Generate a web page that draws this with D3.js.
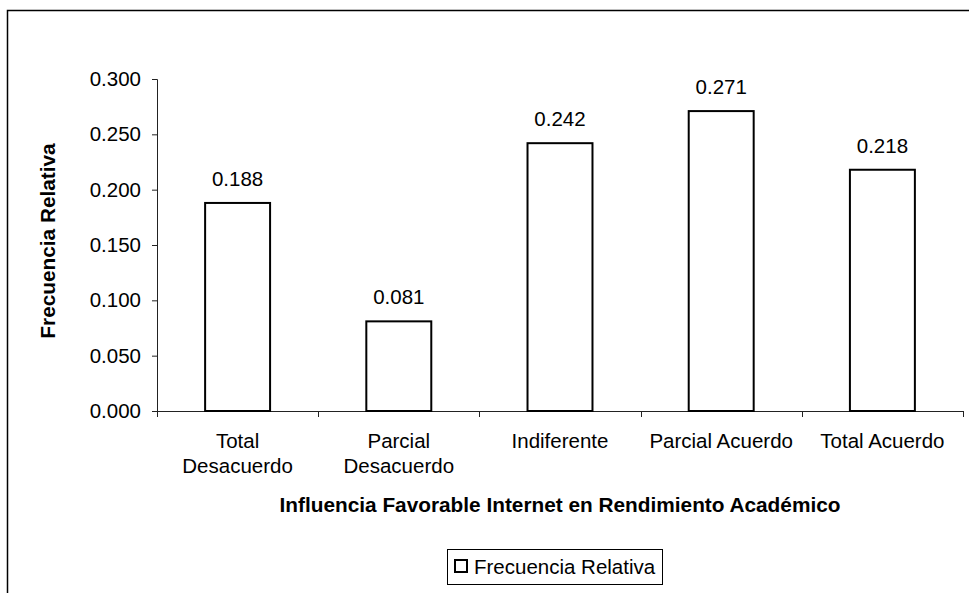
<!DOCTYPE html>
<html><head><meta charset="utf-8">
<script src="https://cdn.jsdelivr.net/npm/d3@7"></script>
<style>body{margin:0;background:#fff}svg{display:block;font-family:"Liberation Sans",Arial,sans-serif}</style>
</head><body>
<svg id="c" width="969" height="593"></svg>
<script>
const categories = [["Total","Desacuerdo"],["Parcial","Desacuerdo"],["Indiferente"],["Parcial Acuerdo"],["Total Acuerdo"]];
const values = [0.188, 0.081, 0.242, 0.271, 0.218];
const yTicks = [0, 0.05, 0.10, 0.15, 0.20, 0.25, 0.30];
const xTitle = "Influencia Favorable Internet en Rendimiento Académico";
const yTitle = "Frecuencia Relativa";
const seriesName = "Frecuencia Relativa";

const FS = 20.5, FB = 20.8;
const svg = d3.select("#c");
svg.append("rect").attr("x",7.5).attr("y",10.5).attr("width",1000).attr("height",1000)
  .attr("fill","#fff").attr("stroke","#000").attr("stroke-width",1.5);

const x0 = 157, x1 = 963, yb = 411, yt = 79;
const idx = categories.map((d,i)=>i);
const x = d3.scaleBand().domain(idx).range([x0,x1]).paddingInner(0.597).paddingOuter(0.2985);
const xb = d3.scaleBand().domain(idx).range([x0,x1]);
const y = d3.scaleLinear().domain([0,0.3]).range([yb,yt]);

// y axis
const ya = svg.append("g").attr("transform",`translate(${x0},0)`)
  .call(d3.axisLeft(y).tickValues(yTicks).tickFormat(d3.format(".3f")).tickSize(5).tickPadding(11));
ya.select(".domain").attr("stroke","#222");
ya.selectAll(".tick line").attr("stroke","#222");
ya.selectAll("text").attr("font-size",FS).attr("fill","#000").attr("font-family","Liberation Sans, Arial, sans-serif");

// x axis line and ticks at boundaries
svg.append("line").attr("x1",x0).attr("x2",x1).attr("y1",yb+0.5).attr("y2",yb+0.5).attr("stroke","#222");
const bounds = idx.map(i=>xb(i)).concat([x1]);
svg.selectAll(".xt").data(bounds).enter().append("line")
  .attr("x1",d=>Math.round(d)+0.5).attr("x2",d=>Math.round(d)+0.5).attr("y1",yb).attr("y2",yb+6).attr("stroke","#222");

// bars
svg.selectAll(".bar").data(values).enter().append("rect")
  .attr("x",(d,i)=>x(i)).attr("width",x.bandwidth())
  .attr("y",d=>y(d)).attr("height",d=>yb-y(d))
  .attr("fill","#fff").attr("stroke","#000").attr("stroke-width",2);

// value labels
svg.selectAll(".vl").data(values).enter().append("text")
  .attr("x",(d,i)=>x(i)+x.bandwidth()/2).attr("y",d=>y(d)-17)
  .attr("text-anchor","middle").attr("font-size",FS).text(d=>d3.format(".3f")(d));

// category labels
categories.forEach((lines,i)=>{
  const cx = xb(i)+xb.bandwidth()/2;
  const t = svg.append("text").attr("text-anchor","middle").attr("font-size",FS)
    .attr("x", cx).attr("y",448);
  lines.forEach((l,j)=>t.append("tspan").attr("x",cx).attr("dy", j===0?0:25).text(l));
});

// titles
svg.append("text").attr("x",(x0+x1)/2).attr("y",512).attr("text-anchor","middle")
  .attr("font-size",FB).attr("font-weight","bold").text(xTitle);
svg.append("text").attr("transform",`translate(55,241) rotate(-90)`).attr("text-anchor","middle")
  .attr("font-size",FB).attr("font-weight","bold").text(yTitle);

// legend
const lg = svg.append("g");
lg.append("rect").attr("x",447.5).attr("y",549.5).attr("width",215).attr("height",35)
  .attr("fill","#fff").attr("stroke","#000").attr("stroke-width",1);
lg.append("rect").attr("x",455).attr("y",560).attr("width",12).attr("height",12)
  .attr("fill","#fff").attr("stroke","#000").attr("stroke-width",2);
lg.append("text").attr("x",474).attr("y",574).attr("font-size",FS).text(seriesName);
</script>
</body></html>
